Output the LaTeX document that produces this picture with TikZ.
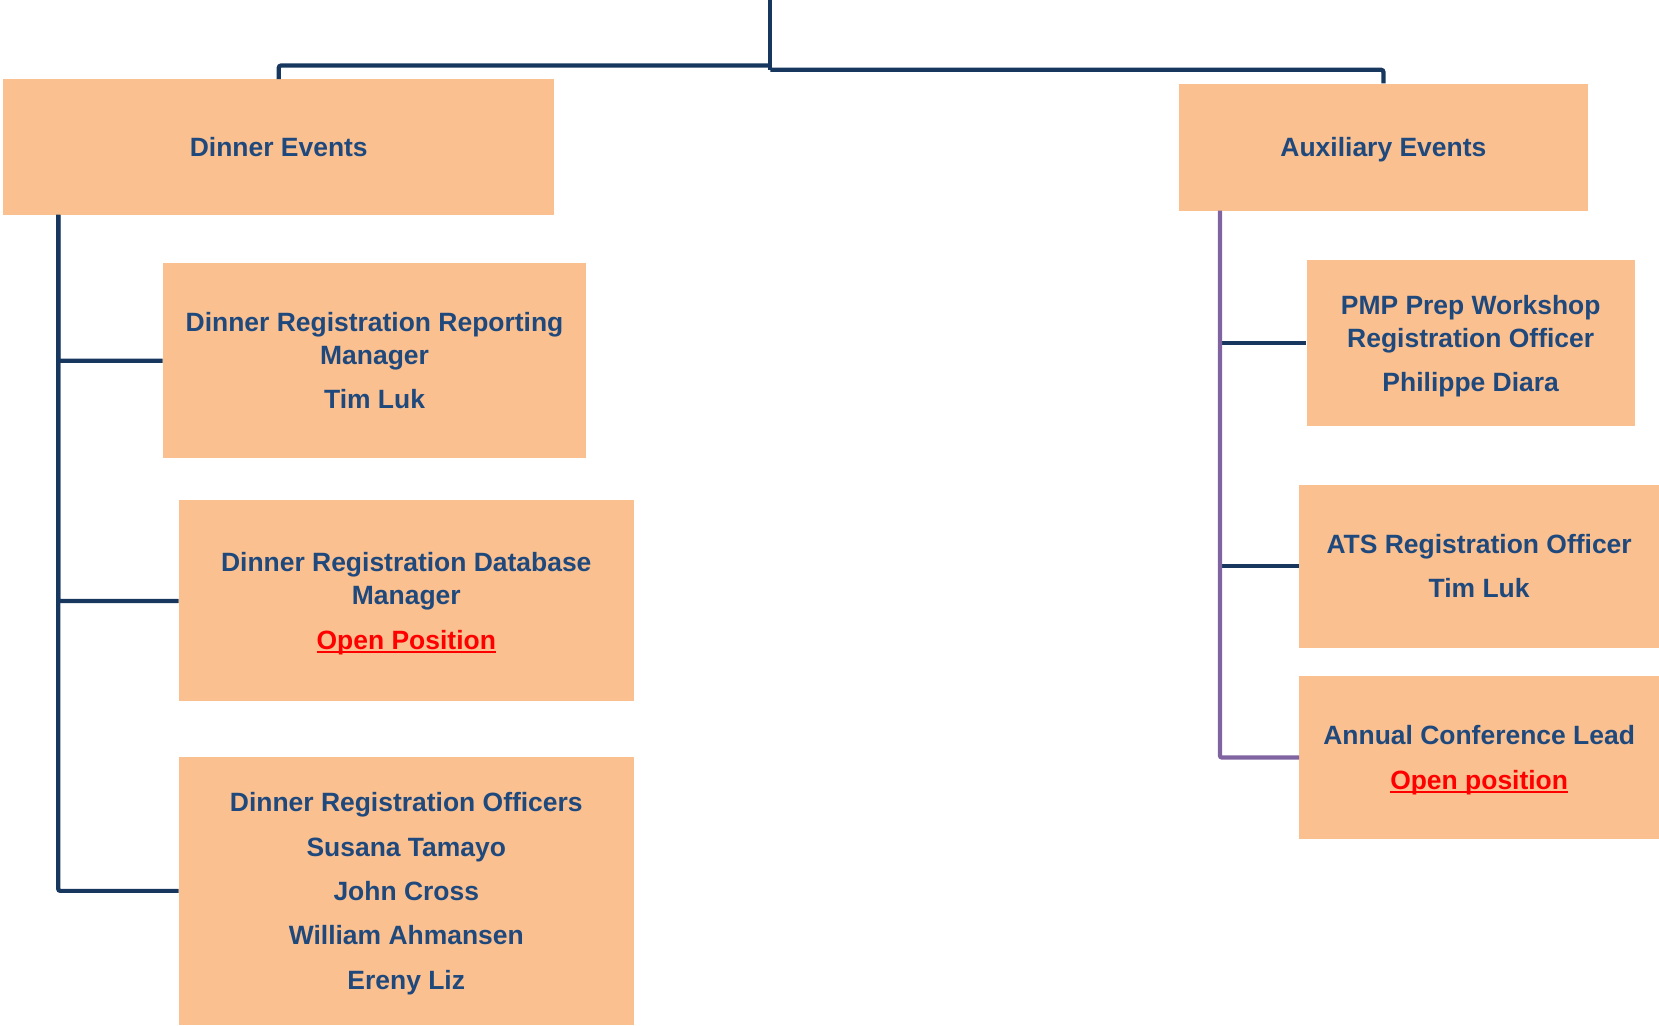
\documentclass[tikz,border=0pt]{standalone}
\usepackage{fontspec}
\setmainfont{Liberation Sans}
\definecolor{boxfill}{HTML}{FAC090}
\definecolor{txtblue}{HTML}{1F497D}
\definecolor{navy}{HTML}{17375E}
\definecolor{purp}{HTML}{8064A2}
\definecolor{openred}{HTML}{FF0000}
\newcommand\redul[1]{{\color{openred}\setbox0\hbox{#1}\rlap{\rule[-3.5pt]{\wd0}{1.6pt}}\box0}}
\begin{document}
\begin{tikzpicture}[x=1pt,y=1pt,
 orgbox/.style={fill=boxfill, draw=none, inner sep=0pt, align=center, text=txtblue, font=\fontsize{25}{31}\selectfont\bfseries},
 navyline/.style={draw=navy, line width=4pt, rounded corners=2pt},
 purpline/.style={draw=purp, line width=4pt, rounded corners=2pt}]
\useasboundingbox (0,0) rectangle (1568,-969);

\node[orgbox, minimum width=521pt, minimum height=128pt] (dinner) at (263.5,-139) {\smash{Dinner Events}\vphantom{D}};
\node[orgbox, minimum width=387pt, minimum height=120pt] (aux) at (1307.5,-139) {\smash{Auxiliary Events}\vphantom{D}};
\node[orgbox, minimum width=400pt, minimum height=184pt] (drrm) at (354,-341) {Dinner Registration Reporting\\Manager\\[11pt]\smash{Tim Luk}};
\node[orgbox, minimum width=430pt, minimum height=190pt] (drdm) at (384,-568) {Dinner Registration Database\\Manager\\[11pt]\smash{\redul{Open Position}}};
\node[orgbox, minimum width=430pt, minimum height=254pt] (dro) at (384,-842) {Dinner Registration Officers\\[11pt]Susana Tamayo\\[11pt]John Cross\\[11pt]William Ahmansen\\[11pt]\smash{Ereny Liz}};
\node[orgbox, minimum width=310pt, minimum height=157pt] (pmp) at (1390,-324.5) {PMP Prep Workshop\\Registration Officer\\[11pt]\smash{Philippe Diara}};
\node[orgbox, minimum width=340pt, minimum height=154pt] (ats) at (1398,-535) {ATS Registration Officer\\[11pt]\smash{Tim Luk}};
\node[orgbox, minimum width=340pt, minimum height=154pt] (ann) at (1398,-716) {Annual Conference Lead\\[11pt]\smash{\redul{Open position}}};

\coordinate (topin) at (728,0);
\coordinate (hubL) at (728,-62);
\coordinate (hubR) at (728,-66);
\draw[navyline] (topin) -- (hubR);
\draw[navyline] (hubL) -| (dinner.north);
\draw[navyline] (hubR) -| (aux.north);

\coordinate (lsp) at (55,-203);
\draw[navyline] (lsp) |- (drrm.west);
\draw[navyline] (lsp) |- (drdm.west);
\draw[navyline] (lsp) |- (dro.west);

\coordinate (rsp) at (1153,-199);
\draw[navyline] (pmp.west -| rsp) -- (pmp.west);
\draw[navyline] (ats.west -| rsp) -- (ats.west);
\draw[purpline] (rsp) |- (ann.west);
\end{tikzpicture}
\end{document}
